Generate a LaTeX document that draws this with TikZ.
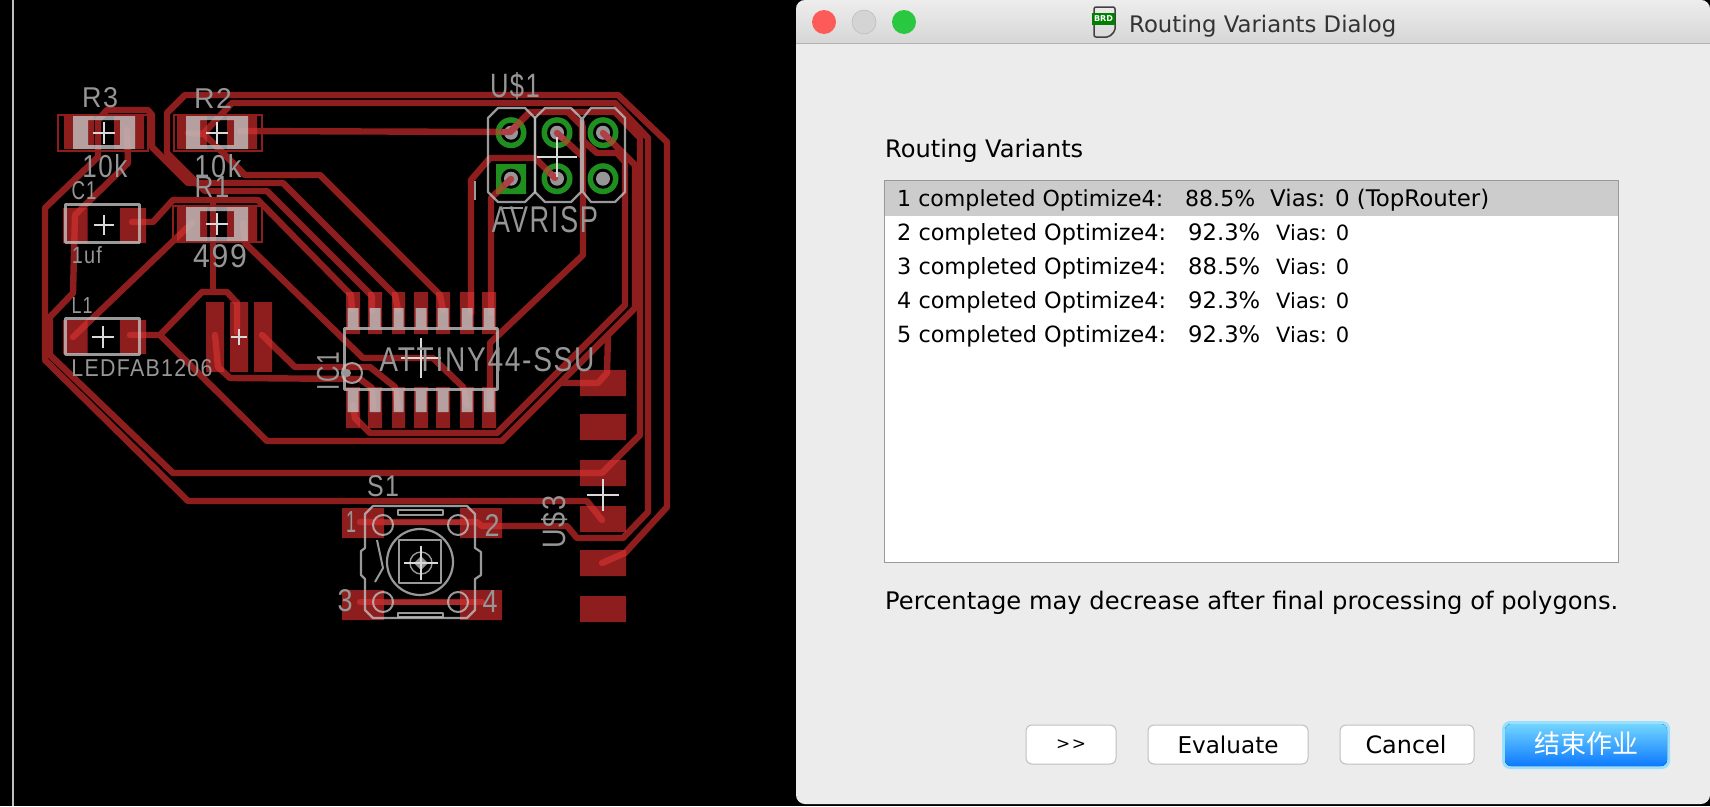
\documentclass[tikz,border=0pt]{standalone}
\usepackage{fontspec}
\setmainfont{DejaVu Sans}
\newfontfamily\silkf[LetterSpace=6]{Liberation Sans}
\newfontfamily\cjkf{Noto Sans CJK SC}
\definecolor{trd}{HTML}{8E1E1E}
\definecolor{trb}{HTML}{BC2A2A}
\definecolor{trm}{HTML}{A82C2C}
\definecolor{silkc}{HTML}{C0C0C0}
\definecolor{silkt}{HTML}{969696}
\definecolor{grn}{HTML}{1F8F1F}
\definecolor{brn}{HTML}{8A5A28}
\definecolor{stub}{HTML}{B04048}
\definecolor{winbg}{HTML}{ECECEC}
\definecolor{tlred}{HTML}{FC5B57}
\definecolor{tlgrn}{HTML}{2AC840}
\tikzset{
  silkline/.style={draw=silkc,draw opacity=0.8,line width=2.2pt,line join=round},
  silkfill/.style={fill=silkc,fill opacity=0.8},
  crossw/.style={draw=white!85!black,line width=1.1pt},
  silktext/.style={inner sep=0pt,text=silkt},
  dlgtext/.style={inner sep=0pt,anchor=base west,text=black},
  btn/.style={draw=black!25,line width=1pt,fill=white,rounded corners=6pt},
  copper/.style={line width=6.4pt,line cap=round,line join=round},
}
\newcommand\silk[6][0]{\node[silktext,rotate=#1] at (#2,#3) {\resizebox{#4pt}{#5pt}{\silkf #6}};}
\newcommand\fitw[2]{\resizebox{#1pt}{!}{#2}}
\newcommand\crs[3]{\draw[crossw] (#1-#3,#2) -- (#1+#3,#2) (#1,#2-#3) -- (#1,#2+#3);}
% pads as one path
\newcommand\padrects{
 (64,116) rectangle (94,149) (114,116) rectangle (144,149)
 (177,116) rectangle (207,149) (227,116) rectangle (257,149)
 (177,207) rectangle (207,241) (227,207) rectangle (257,241)
 (63,208) rectangle (87.5,243) (120,208) rectangle (146,243)
 (63,320) rectangle (87.5,354) (120,320) rectangle (146,354)
 (206,302) rectangle (224,372) (230,302) rectangle (248,372) (254,302) rectangle (272,372)
 (346,292) rectangle (360,334) (368,292) rectangle (382,334) (392,292) rectangle (405,334)
 (414,292) rectangle (428,334) (436,292) rectangle (450,334) (460,292) rectangle (474,334) (482,292) rectangle (496,334)
 (346,387) rectangle (360,428) (368,387) rectangle (382,428) (392,387) rectangle (405,428)
 (414,387) rectangle (428,428) (436,387) rectangle (450,428) (460,387) rectangle (474,428) (482,387) rectangle (496,428)
 (580,370) rectangle (626,396) (580,414) rectangle (626,440) (580,460) rectangle (626,486)
 (580,506) rectangle (626,532) (580,550) rectangle (626,576) (580,596) rectangle (626,622)
 (342,508) rectangle (384,538) (460,508) rectangle (502,538)
 (342,590) rectangle (384,620) (460,590) rectangle (502,620)
}
% all copper traces
\newcommand\alltraces{
 \draw (372,310)--(372,296)--(267,191)--(205,191)--(167,153)--(167,113)--(185,95)--(618,95)--(667,142)--(667,507)--(625,553)--(602,563);
 \draw (188,133)--(203,134)--(232,103)--(615,103)--(648,138)--(648,512)--(623,538)--(577,538)--(567,526)--(482,526)--(477,522)--(360,522);
 \draw (360,602)--(482,602);
 \draw (240,131)--(510,132)--(530,112)--(615,112)--(640,138)--(640,435)--(602,473)--(173,473)--(50,355)--(50,317)--(73,293)--(75,215)--(128,163)--(127,130);
 \draw (510,132)--(530,112);
 \draw (568,112)--(583,127)--(583,255)--(490,343)--(490,407);
 \draw (557,133)--(581,155);
 \draw (582,123)--(582,140)--(597,153)--(617,153)--(625,162)--(625,305)--(497,433)--(370,433)--(355,418)--(353,405);
 \draw (603,133)--(635,165)--(635,308)--(502,441)--(267,441)--(160,335)--(130,335);
 \draw (160,335)--(202,292)--(227,292)--(237,303)--(237,332);
 \draw (213,292)--(213,200);
 \draw (132,222)--(153,222)--(173,200)--(258,200)--(351,295)--(352,310);
 \draw (243,223)--(245,243)--(363,358)--(433,358)--(463,387)--(467,405);
 \draw (203,133)--(245,175)--(320,175)--(440,295)--(443,310);
 \draw (398,310)--(395,295)--(283,183)--(188,183)--(152,147)--(152,115)--(148,110)--(107,110)--(98,120)--(98,157)--(45,208)--(45,360)--(188,501)--(587,501)--(602,520);
 \draw (73,337)--(192,223);
 \draw (215,335)--(218,367)--(230,378)--(360,379)--(372,388)--(373,408);
 \draw (262,335)--(295,367)--(370,367)--(395,387)--(398,408);
 \draw (471,313)--(471,180)--(490,158)--(535,158)--(555,178);
 \draw (491,313)--(491,198)--(511,179);
 \draw (608,335)--(607,373)--(598,383)--(560,383);
 \draw (237,302)--(237,332);
}
\newcommand\pinrings{
 (511,132.7) circle (15.5) (557,132.7) circle (15.5) (603,132.7) circle (15.5)
 (557,178.7) circle (15.5) (603,178.7) circle (15.5) (496,164) rectangle (526,194)
}
\newcommand\pinholes{
 (511,132.7) circle (10) (557,132.7) circle (10) (603,132.7) circle (10)
 (511,178.7) circle (10) (557,178.7) circle (10) (603,178.7) circle (10)
}
\begin{document}
\begin{tikzpicture}[x=1pt,y=-1pt]
\useasboundingbox (0,0) rectangle (1710,806);
\fill[black] (0,0) rectangle (1710,806);
\draw[black!25,line width=1.5pt] (13,0) -- (13,806);
% ---------- copper
\fill[trd] \padrects;
\fill[grn] \pinrings;
\begin{scope}[color=trd,copper]
 \alltraces
\end{scope}
\begin{scope}
 \clip \padrects;
 \begin{scope}[color=trb,copper]
  \alltraces
 \end{scope}
\end{scope}
\begin{scope}
 \clip \pinrings;
 \begin{scope}[color=brn,copper]
  \alltraces
 \end{scope}
\end{scope}
\fill[black] \pinholes;
\fill[silkt] (511,132.7) circle (7) (557,132.7) circle (7) (603,132.7) circle (7)
 (511,178.7) circle (7) (557,178.7) circle (7) (603,178.7) circle (7);
\begin{scope}
 \clip \pinholes;
 \begin{scope}[color=stub,copper]
  \alltraces
 \end{scope}
\end{scope}
\draw[trm,line width=5pt] (384,522)--(460,522) (384,602)--(460,602);
% thin outlines of resistors
\draw[trd,line width=1.5pt] (58,115) rectangle (148,151) (174,115) rectangle (262,151) (173,206) rectangle (262,242);
% ---------- silk fills
\fill[silkfill]
 (73,116) rectangle (88,149) (120,116) rectangle (135,149)
 (88,116) rectangle (120,120) (88,145) rectangle (120,149)
 (186,116) rectangle (200,149) (234,116) rectangle (248,149)
 (200,116) rectangle (234,120) (200,145) rectangle (234,149)
 (186,207) rectangle (200,241) (234,207) rectangle (248,241)
 (200,207) rectangle (234,211) (200,237) rectangle (234,241)
 (347.5,308) rectangle (358.5,327) (369.5,308) rectangle (380.5,327) (393.5,308) rectangle (403.5,327)
 (415.5,308) rectangle (426.5,327) (437.5,308) rectangle (448.5,327) (461.5,308) rectangle (472.5,327) (483.5,308) rectangle (494.5,327)
 (347.5,391) rectangle (358.5,412) (369.5,391) rectangle (380.5,412) (393.5,391) rectangle (403.5,412)
 (415.5,391) rectangle (426.5,412) (437.5,391) rectangle (448.5,412) (461.5,391) rectangle (472.5,412) (483.5,391) rectangle (494.5,412);
% ---------- silk lines
\draw[silkline,line width=3pt] (65,204) rectangle (139,242) (65,318) rectangle (139,354);
\draw[silkline,line width=3pt] (344,328.5) rectangle (497,389);
\draw[silkline] (498,108)--(525,108)--(535,118)--(535,192)--(525,202)--(498,202)--(488,192)--(488,118)--cycle;
\draw[silkline] (545,108)--(571,108)--(581,118)--(581,192)--(571,202)--(545,202)--(535,192)--(535,118)--cycle;
\draw[silkline] (591,108)--(615,108)--(625,118)--(625,192)--(615,202)--(591,202)--(583,192)--(583,118)--cycle;
\draw[silkline,line width=1.5pt] (475,181)--(475,200);
\fill[silkfill] (503,206.5) rectangle (523,209);
% switch
\draw[silkline] (373,506)--(467,506)--(475,514)--(475,548)--(481,552)--(481,575)--(475,579)--(475,610)--(467,618)--(373,618)--(365,610)--(365,579)--(361,575)--(361,551)--(365,548)--(365,514)--cycle;
\draw[silkline,line width=1.8pt] (398,510) rectangle (443,515) (398,613) rectangle (443,617);
\draw[silkline] (420,562) circle (33);
\draw[silkline,line width=1.4pt] (399,540) rectangle (441,583);
\draw[silkline,line width=1.4pt] (421,563) circle (11);
\fill[silkt] (421,556)--(428,563)--(421,570)--(414,563)--cycle;
\draw[silkline,line width=2pt] (383,525) circle (10) (458,525) circle (10) (383,602) circle (10) (458,602) circle (10);
\draw[silkline,line width=2pt] (377,540)--(383,568)--(375,582);
% IC1 pin mark
\draw[silkline,line width=2pt] (352,373) circle (10);
\fill[silkt] (347,373) circle (4);
% ---------- crosses
\crs{104}{133}{11}
\crs{217}{133}{11}
\crs{217}{224}{11}
\crs{104}{225}{10}
\crs{103}{337}{11}
\crs{239}{337}{8}
\crs{557}{157}{20}
\crs{421}{358}{20}
\crs{421}{563}{17}
\crs{603}{495}{16}
% ---------- silk labels
\silk{100}{98}{36}{20}{R3}
\silk{213}{98}{38}{20}{R2}
\silk{105}{166}{45}{23}{10k}
\silk{218}{166}{47}{23}{10k}
\silk{84}{191}{25}{18}{C1}
\silk{212}{187}{35}{21}{R1}
\silk{87}{255}{30}{17}{1uf}
\silk{220}{256}{54}{23}{499}
\silk{82}{305}{21}{16}{L1}
\silk{142}{368}{141}{17}{LEDFAB1206}
\silk{515}{86}{50}{25}{U\$1}
\silk{545}{220}{106}{26}{AVRISP}
\silk{487}{360}{215}{24}{ATTINY44-SSU}
\silk{383}{486}{32}{21}{S1}
\silk{351}{522}{10}{21}{1}
\silk{492}{525}{15}{22}{2}
\silk{345}{601}{15}{22}{3}
\silk{490}{601}{15}{22}{4}
\silk[90]{328}{371}{38}{22}{IC1}
\silk[90]{555}{522}{53}{24}{U\$3}
% ---------- dialog window
\fill[winbg,rounded corners=9pt] (796,0) rectangle (1710,804);
\begin{scope}
 \clip[rounded corners=9pt] (796,0) rectangle (1710,100);
 \fill[top color=black!7,bottom color=black!16] (796,0) rectangle (1710,43);
\end{scope}
\draw[black!30,line width=1pt] (796,43.5)--(1710,43.5);
\fill[tlred] (824,22) circle (12);
\fill[black!17] (864,22) circle (12);
\draw[black!27,line width=.5pt] (864,22) circle (12);
\fill[tlgrn] (904,22) circle (12);
% icon
\draw[black!75,line width=1.5pt,rounded corners=2pt] (1094,7)--(1115,7)--(1115,31)--(1109,37)--(1094,37)--cycle;
\fill[green!50!black] (1092,13) rectangle (1115,25);
\node[inner sep=0pt,text=white] (brd) at (1103.5,19) {\resizebox{19pt}{!}{\bfseries BRD}};
\node[dlgtext,text=black!80] (title) at (1129,32) {\fitw{267}{Routing Variants Dialog}};
\node[dlgtext] (heading) at (885,157) {\fitw{198}{Routing Variants}};
% list
\fill[white] (884,180) rectangle (1618,562);
\fill[black!20] (884.5,181) rectangle (1617.5,216);
\draw[black!40,line width=1pt] (884,180) rectangle (1618,562);
\node[dlgtext] at (897,206) {\fitw{266}{1 completed Optimize4:}};
\node[dlgtext] at (1185,206) {\fitw{70}{88.5\%}};
\node[dlgtext] at (1270,206) {\fitw{219}{Vias: 0 (TopRouter)}};
\node[dlgtext] at (897,240) {\fitw{269}{2 completed Optimize4:}};
\node[dlgtext] at (1188,240) {\fitw{72}{92.3\%}};
\node[dlgtext] at (1276,240) {\fitw{73}{Vias: 0}};
\node[dlgtext] at (897,274) {\fitw{269}{3 completed Optimize4:}};
\node[dlgtext] at (1188,274) {\fitw{72}{88.5\%}};
\node[dlgtext] at (1276,274) {\fitw{73}{Vias: 0}};
\node[dlgtext] at (897,308) {\fitw{269}{4 completed Optimize4:}};
\node[dlgtext] at (1188,308) {\fitw{72}{92.3\%}};
\node[dlgtext] at (1276,308) {\fitw{73}{Vias: 0}};
\node[dlgtext] at (897,342) {\fitw{269}{5 completed Optimize4:}};
\node[dlgtext] at (1188,342) {\fitw{72}{92.3\%}};
\node[dlgtext] at (1276,342) {\fitw{73}{Vias: 0}};
\node[dlgtext] (note) at (885,609) {\fitw{733}{Percentage may decrease after final processing of polygons.}};
% buttons
\draw[btn] (1026,725) rectangle (1116,764);
\draw[btn] (1148,725) rectangle (1308,764);
\draw[btn] (1340,725) rectangle (1474,764);
\fill[blue!30!cyan!40!white,rounded corners=8pt] (1502,721) rectangle (1670,769);
\fill[rounded corners=6pt,top color=blue!30!cyan!55!white,bottom color=blue!55!cyan!95!white] (1505,724) rectangle (1667,766);
\node[inner sep=0pt,text=black] (b1) at (1071,745) {\resizebox{30pt}{!}{{>}\kern1pt{>}}};
\node[inner sep=0pt,text=black] (b2) at (1228,745) {\resizebox{101pt}{!}{Evaluate}};
\node[inner sep=0pt,text=black] (b3) at (1406,745) {\resizebox{81pt}{!}{Cancel}};
\node[inner sep=0pt,text=white] (b4) at (1586,744) {\resizebox{104pt}{!}{\cjkf 结束作业}};
\end{tikzpicture}
\end{document}
